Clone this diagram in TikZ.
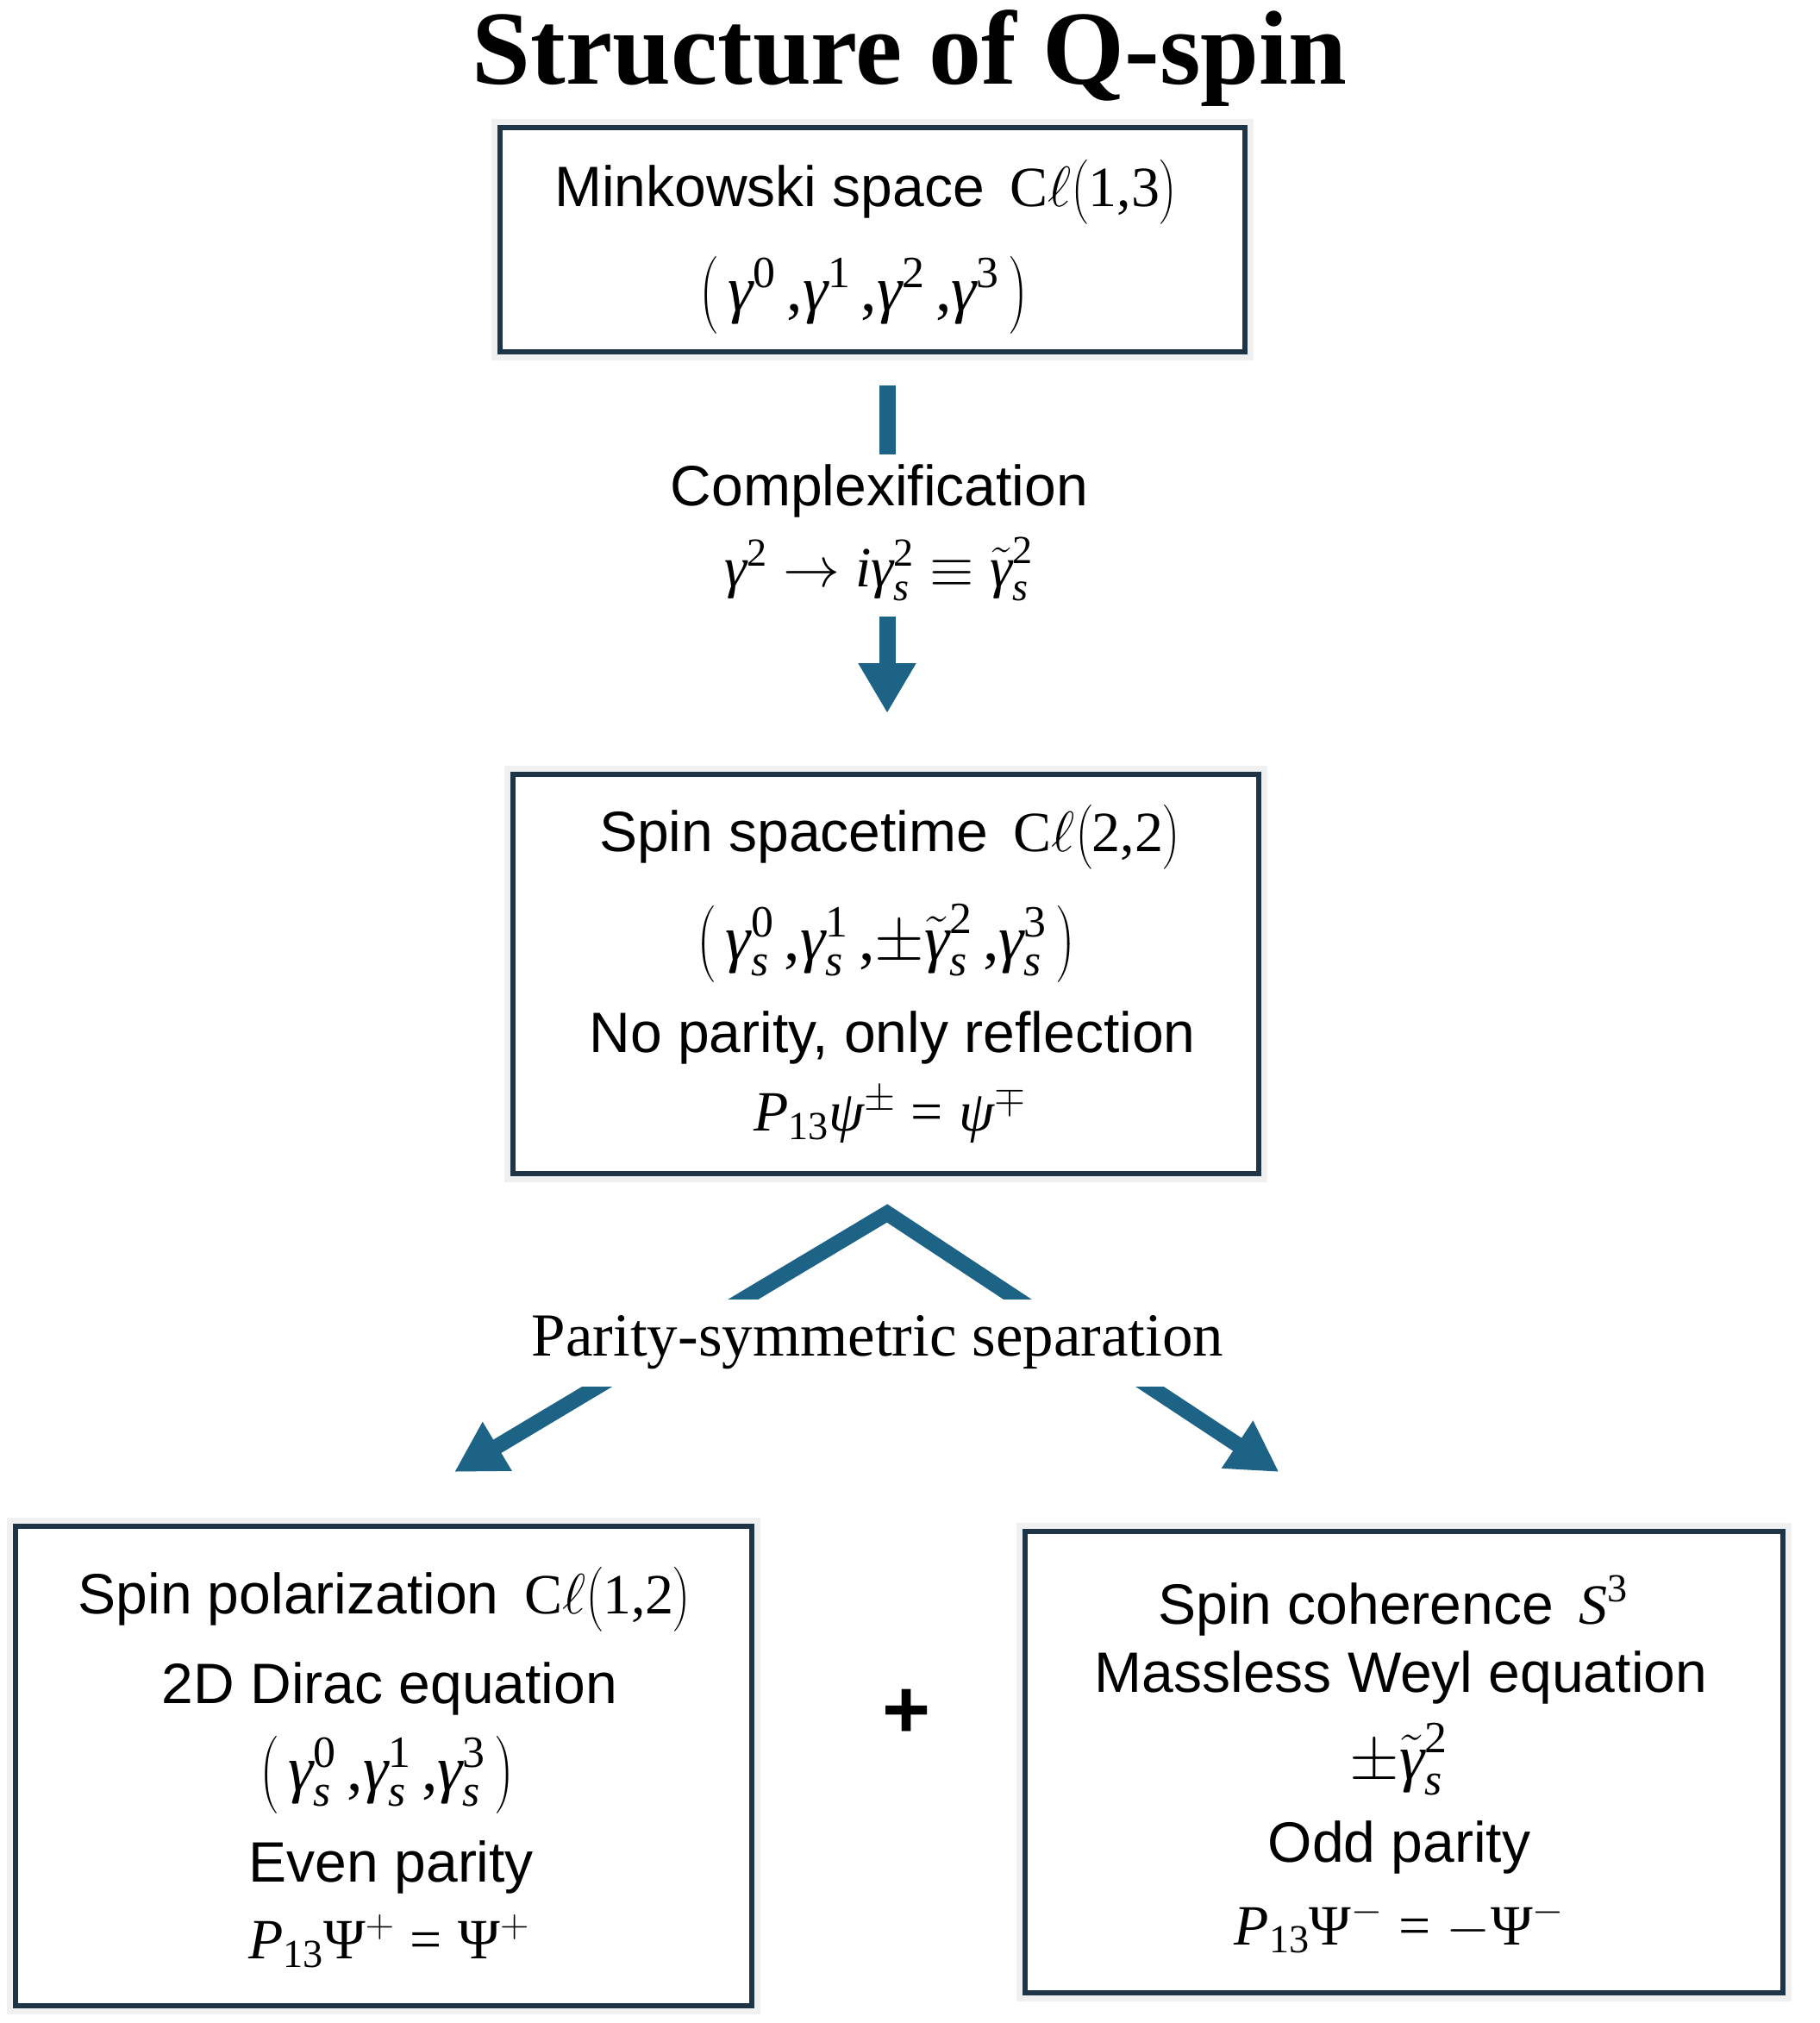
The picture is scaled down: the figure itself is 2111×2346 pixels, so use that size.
\RequirePackage{fix-cm}
\documentclass[tikz,border=0pt]{standalone}
\usepackage{amsmath}
\usepackage{fontspec}
\setmainfont{Liberation Sans}
\newfontfamily\tms{Liberation Serif}
\usetikzlibrary{arrows.meta,calc}
\definecolor{boxc}{HTML}{1E3548}
\definecolor{arrc}{HTML}{1D6386}
\newcommand\G{\text{\tms\itshape γ}}
\newcommand\Rm[1]{\text{\tms #1}}
\newcommand\It[1]{\text{\tms\itshape #1}}
\newcommand\cm{\,\Rm{,}}
\newcommand\eq{\mathrel{\Rm{=}}}
\tikzset{
  box/.style={draw=boxc, line width=6pt, fill=white, inner sep=0pt,
    preaction={draw=black!6, line width=20pt}},
  txt/.style={font=\fontsize{66}{79}\selectfont, inner sep=0pt},
  mth/.style={font=\fontsize{66}{79}\selectfont, inner sep=0pt},
  tup/.style={font=\fontsize{74}{88}\selectfont, inner sep=0pt},
  vbar/.style={draw=arrc, line width=19pt},
  varr/.style={draw=arrc, line width=19pt, -{Triangle[width=63pt,length=58pt]}},
  sarr/.style={draw=arrc, line width=18pt, miter limit=20,
    {Triangle[width=62pt,length=58pt]}-{Triangle[width=62pt,length=58pt]}},
}
\begin{document}
\begin{tikzpicture}[x=1pt,y=-1pt]
\useasboundingbox[fill=white] (0,0) rectangle (2111,2346);
% title
\node[anchor=base, inner sep=0pt, font={\tms\bfseries\fontsize{122}{140}\selectfont}] (title) at (1055,97) {Structure of Q-spin};
% boxes
\node[box, minimum width=864pt, minimum height=260pt] (b1) at (1012,278) {};
\node[box, minimum width=865pt, minimum height=463pt] (b2) at (1027.5,1129.5) {};
\node[box, minimum width=854pt, minimum height=556pt] (b3) at (445,2048) {};
\node[box, minimum width=879pt, minimum height=535pt] (b4) at (1628.5,2043.5) {};
% box 1
\node[txt] (t1a) at (1004,223) {Minkowski space\hspace{0.45em}$\Rm{C}\ell\bigl(\Rm{1,3}\bigr)$};
\node[tup] (t1b) at (1002,342) {$\bigl(\,\G^{\Rm0}\cm\G^{\Rm1}\cm\G^{\Rm2}\cm\G^{\Rm3}\,\bigr)$};
% connector 1
\draw[vbar] ($(b1.south)+(17,36)$) -- ($(b1.south)+(17,116)$);
\draw[varr] ($(b2.north)+(1.5,-180)$) -- ($(b2.north)+(1.5,-68)$);
\node[txt] (cl1) at (1020,569) {Complexification};
\node[mth] (cl2) at (1019,660) {$\G^{\Rm2}\rightarrow\It{i}\G^{\Rm2}_{\It s}\equiv\tilde{\G}^{\Rm2}_{\It s}$};
% box 2
\node[txt] (t2a) at (1032,971) {Spin spacetime\hspace{0.45em}$\Rm{C}\ell\bigl(\Rm{2,2}\bigr)$};
\node[tup] (t2b) at (1028,1094) {$\bigl(\,\G^{\Rm0}_{\It s}\cm\G^{\Rm1}_{\It s}\cm{\pm}\tilde{\G}^{\Rm2}_{\It s}\cm\G^{\Rm3}_{\It s}\,\bigr)$};
\node[txt] (t2c) at (1035,1203) {No parity, only reflection};
\node[mth] (t2d) at (1032,1293) {$\It{P}_{\Rm{13}}\It{ψ}^{\pm}\eq\It{ψ}^{\mp}$};
% split arrows
\coordinate (apex) at ($(b2.south)+(1.5,43)$);
\coordinate (ltip) at ($(b3.north)+(82,-60)$);
\coordinate (rtip) at ($(b4.north)+(-145,-66)$);
\draw[sarr] (ltip) -- (apex) -- (rtip);
\node[fill=white, inner xsep=4pt, minimum height=101pt, font={\tms\fontsize{71}{85}\selectfont}] (ps) at (1018,1557) {Parity-symmetric separation};
% box 3
\node[txt] (t3a) at (446,1855) {Spin polarization\hspace{0.45em}$\Rm{C}\ell\bigl(\Rm{1,2}\bigr)$};
\node[txt] (t3b) at (452,1958) {2D Dirac equation};
\node[tup] (t3c) at (449,2058) {$\bigl(\,\G^{\Rm0}_{\It s}\cm\G^{\Rm1}_{\It s}\cm\G^{\Rm3}_{\It s}\,\bigr)$};
\node[txt] (t3d) at (454,2165) {Even parity};
\node[mth] (t3e) at (451,2251) {$\It{P}_{\Rm{13}}\Rm{Ψ}^{+}\eq\Rm{Ψ}^{+}$};
% plus
\node[inner sep=0pt, font={\bfseries\fontsize{96}{110}\selectfont}] (plus) at (1052,1987) {+};
% box 4
\node[txt] (t4a) at (1616,1862) {Spin coherence\hspace{0.45em}$\It{S}^{\Rm3}$};
\node[txt] (t4b) at (1625,1945) {Massless Weyl equation};
\node[tup] (t4c) at (1622,2040) {${\pm}\tilde{\G}^{\Rm2}_{\It s}$};
\node[txt] (t4d) at (1623,2142) {Odd parity};
\node[mth] (t4e) at (1623,2234) {$\It{P}_{\Rm{13}}\Rm{Ψ}^{-}\eq{-}\Rm{Ψ}^{-}$};
\end{tikzpicture}
\end{document}
